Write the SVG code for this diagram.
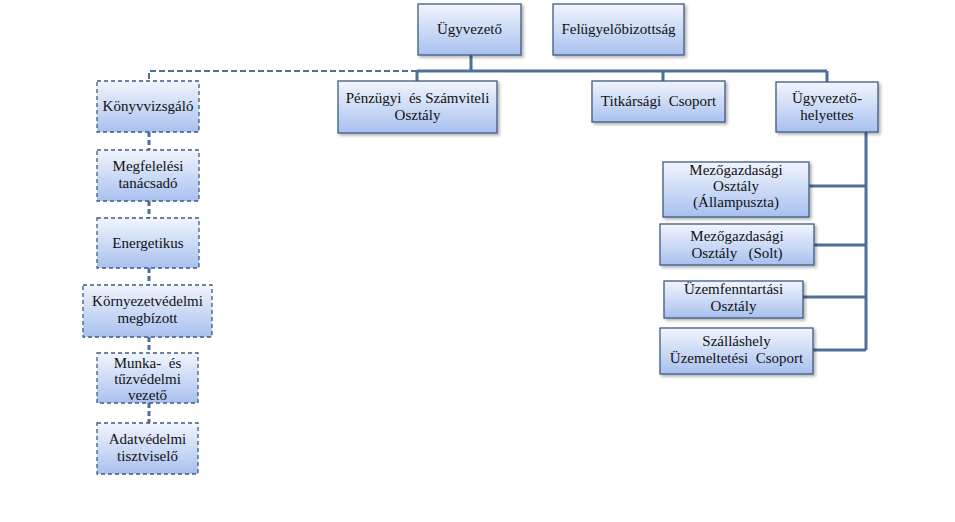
<svg xmlns="http://www.w3.org/2000/svg" width="955" height="522" viewBox="0 0 955 522" font-family="Liberation Serif, Times New Roman, DejaVu Serif, serif">
<defs>
<linearGradient id="g" x1="0" y1="0" x2="0" y2="1">
<stop offset="0" stop-color="#f1f5fd"/>
<stop offset="0.5" stop-color="#cddbf6"/>
<stop offset="1" stop-color="#a8c0ef"/>
</linearGradient>
<filter id="sh" x="-10%" y="-10%" width="130%" height="140%">
<feDropShadow dx="2" dy="2" stdDeviation="1.5" flood-color="#000" flood-opacity="0.3"/>
</filter>
</defs>
<style>
.b{fill:url(#g);stroke:#3f5b80;stroke-width:1.3;filter:url(#sh)}
.d{fill:url(#g);stroke:#3f5b80;stroke-width:1.3;stroke-dasharray:4,3}
.t{font-size:15px;fill:#111;text-anchor:middle;white-space:pre}
.c{fill:none;stroke:#4d6f9a;stroke-width:3}
.cd{fill:none;stroke:#4d6f9a;stroke-width:2;stroke-dasharray:6,3}
.cv{fill:none;stroke:#4d6f9a;stroke-width:3;stroke-dasharray:5,3}
</style>
<rect width="955" height="522" fill="#fff"/>
<g id="connectors">
<path class="c" d="M471 55V71M417 71H827M417 71V81M663 71V81M827 71V82"/>
<path class="cd" d="M471 71H149V81"/>
<path class="cv" d="M149 132V150M149 201V218M149 268V285M149 337V353M149 403V423"/>
<path class="c" d="M866 132V350M809 186H866M814 245H866M803 297H866M813 350H866"/>
</g>
<g id="ugyvezeto"><rect class="b" x="418" y="4" width="103" height="51"/><text class="t" x="469.5" y="34">Ügyvezető</text></g>
<g id="felugyelo"><rect class="b" x="553" y="4" width="131" height="51"/><text class="t" x="618.5" y="34">Felügyelőbizottság</text></g>
<g id="penzugyi"><rect class="b" x="338" y="81" width="159" height="52"/><text class="t" x="417.5" y="103" xml:space="preserve">Pénzügyi  és Számviteli</text><text class="t" x="417.5" y="120">Osztály</text></g>
<g id="titkarsagi"><rect class="b" x="592" y="81" width="133" height="41"/><text class="t" x="658.5" y="106" xml:space="preserve">Titkársági  Csoport</text></g>
<g id="helyettes"><rect class="b" x="776" y="82" width="102" height="50"/><text class="t" x="827" y="103">Ügyvezető-</text><text class="t" x="827" y="120">helyettes</text></g>
<g id="konyvvizsgalo"><rect class="d" x="97" y="81" width="102" height="51"/><text class="t" x="148" y="111">Könyvvizsgáló</text></g>
<g id="megfelelesi"><rect class="d" x="97" y="150" width="102" height="51"/><text class="t" x="148" y="171">Megfelelési</text><text class="t" x="148" y="188">tanácsadó</text></g>
<g id="energetikus"><rect class="d" x="97" y="218" width="102" height="50"/><text class="t" x="148" y="248">Energetikus</text></g>
<g id="kornyezet"><rect class="d" x="83" y="285" width="129" height="52"/><text class="t" x="147.5" y="306">Környezetvédelmi</text><text class="t" x="147.5" y="323">megbízott</text></g>
<g id="munka"><rect class="d" x="97" y="353" width="101" height="50"/><text class="t" x="147.5" y="368" xml:space="preserve">Munka-  és</text><text class="t" x="147.5" y="384">tűzvédelmi</text><text class="t" x="147.5" y="400">vezető</text></g>
<g id="adatvedelmi"><rect class="d" x="97" y="423" width="101" height="51"/><text class="t" x="147.5" y="444">Adatvédelmi</text><text class="t" x="147.5" y="461">tisztviselő</text></g>
<g id="allampuszta"><rect class="b" x="663" y="162" width="146" height="55"/><text class="t" x="736" y="175">Mezőgazdasági</text><text class="t" x="736" y="191">Osztály</text><text class="t" x="736" y="207">(Állampuszta)</text></g>
<g id="solt"><rect class="b" x="660" y="224" width="154" height="41"/><text class="t" x="737" y="241">Mezőgazdasági</text><text class="t" x="737" y="258" xml:space="preserve">Osztály   (Solt)</text></g>
<g id="uzemfenntartasi"><rect class="b" x="664" y="281" width="139" height="37"/><text class="t" x="733.5" y="294">Üzemfenntartási</text><text class="t" x="733.5" y="311">Osztály</text></g>
<g id="szallashely"><rect class="b" x="660" y="328" width="153" height="46"/><text class="t" x="736.5" y="346">Szálláshely</text><text class="t" x="736.5" y="363" xml:space="preserve">Üzemeltetési  Csoport</text></g>
</svg>
